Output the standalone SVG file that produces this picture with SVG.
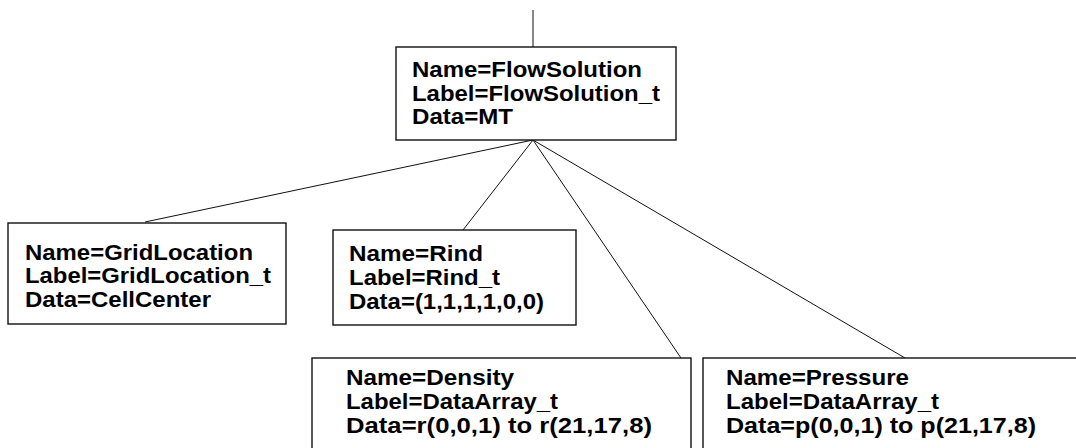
<svg xmlns="http://www.w3.org/2000/svg" width="1076" height="448" viewBox="0 0 1076 448">
  <style>
    .box { fill: #ffffff; stroke: #111111; stroke-width: 1.4; }
    .lbl { font-family: "Liberation Sans", Arial, sans-serif; font-weight: bold; font-size: 21.5px; fill: #000000; }
    .con { stroke: #111111; stroke-width: 1; fill: none; }
  </style>
  <rect x="0" y="0" width="1076" height="448" fill="#ffffff"/>
  <g id="connectors">
    <line class="con" x1="533" y1="10" x2="533" y2="47" stroke="#555555" stroke-width="1.5"/>
    <line class="con" x1="533" y1="140" x2="145" y2="222"/>
    <line class="con" x1="533" y1="140" x2="463" y2="230"/>
    <line class="con" x1="533" y1="140" x2="681" y2="358"/>
    <line class="con" x1="533" y1="140" x2="905" y2="358"/>
  </g>
  <g id="node-flowsolution">
    <rect class="box" x="396" y="47" width="280" height="93"/>
    <text class="lbl" x="412" y="77" textLength="230" lengthAdjust="spacingAndGlyphs">Name=FlowSolution</text>
    <text class="lbl" x="412" y="101" textLength="248" lengthAdjust="spacingAndGlyphs">Label=FlowSolution_t</text>
    <text class="lbl" x="412" y="124" textLength="101" lengthAdjust="spacingAndGlyphs">Data=MT</text>
  </g>
  <g id="node-gridlocation">
    <rect class="box" x="8" y="223" width="278" height="101"/>
    <text class="lbl" x="25" y="260" textLength="228" lengthAdjust="spacingAndGlyphs">Name=GridLocation</text>
    <text class="lbl" x="25" y="283" textLength="246" lengthAdjust="spacingAndGlyphs">Label=GridLocation_t</text>
    <text class="lbl" x="25" y="307" textLength="186" lengthAdjust="spacingAndGlyphs">Data=CellCenter</text>
  </g>
  <g id="node-rind">
    <rect class="box" x="333" y="230" width="243" height="95"/>
    <text class="lbl" x="349" y="261" textLength="134" lengthAdjust="spacingAndGlyphs">Name=Rind</text>
    <text class="lbl" x="349" y="285" textLength="151" lengthAdjust="spacingAndGlyphs">Label=Rind_t</text>
    <text class="lbl" x="349" y="309" textLength="195" lengthAdjust="spacingAndGlyphs">Data=(1,1,1,1,0,0)</text>
  </g>
  <g id="node-density">
    <rect class="box" x="312" y="358" width="379" height="100"/>
    <text class="lbl" x="346" y="385" textLength="168" lengthAdjust="spacingAndGlyphs">Name=Density</text>
    <text class="lbl" x="346" y="409" textLength="212" lengthAdjust="spacingAndGlyphs">Label=DataArray_t</text>
    <text class="lbl" x="346" y="433" textLength="306" lengthAdjust="spacingAndGlyphs">Data=r(0,0,1) to r(21,17,8)</text>
  </g>
  <g id="node-pressure">
    <rect class="box" x="703" y="358" width="380" height="100"/>
    <text class="lbl" x="726" y="385" textLength="183" lengthAdjust="spacingAndGlyphs">Name=Pressure</text>
    <text class="lbl" x="726" y="409" textLength="213" lengthAdjust="spacingAndGlyphs">Label=DataArray_t</text>
    <text class="lbl" x="726" y="433" textLength="310" lengthAdjust="spacingAndGlyphs">Data=p(0,0,1) to p(21,17,8)</text>
  </g>
</svg>
